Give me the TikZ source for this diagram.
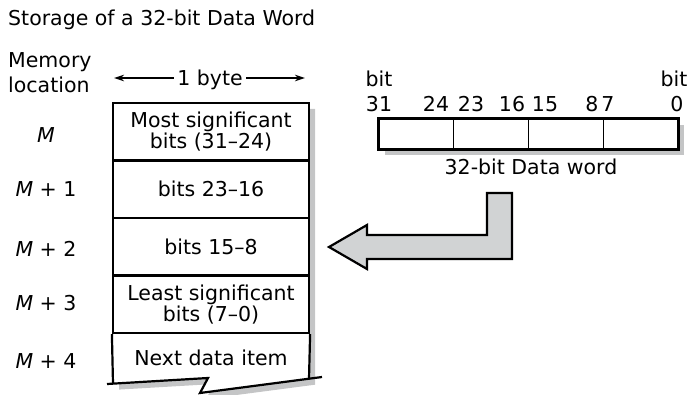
\documentclass[tikz,border=0pt]{standalone}
\usepackage{fontspec}
\setmainfont{DejaVu Sans}
\usetikzlibrary{arrows.meta}
\definecolor{shadowgray}{HTML}{C4C5C6}
\definecolor{arrowgray}{HTML}{D1D3D4}
\begin{document}
\begin{tikzpicture}[x=1pt,y=-1pt,
        every node/.style={font=\fontsize{20.5}{21}\selectfont,text=black},
        lbl/.style={anchor=base,inner sep=0pt},
        row/.style={draw,line width=2.2pt,minimum width=196pt,minimum height=57.5pt,
                    align=center,inner sep=0pt},
        cell/.style={draw,line width=1pt,minimum width=74.75pt,minimum height=30pt,inner sep=0pt},
        dim/.style={line width=1.5pt,-{Stealth[length=10pt,width=6.5pt]}}]
      \useasboundingbox (0,0) rectangle (690,395);
      \node[lbl,anchor=base west](title) at(8,26){Storage of a 32-bit Data Word};
      \node[lbl,anchor=base west](mem) at(8,68){Memory};
      \node[lbl,anchor=base west](loc) at(8,93){location};
      \node[lbl](byte) at(210,86){\,1 byte\,};
      \coordinate(bl) at(114,78);
      \coordinate(br) at(305,78);
      \draw[dim](byte.west |- bl)--(bl);
      \draw[dim](byte.east |- br)--(br);
      % memory column
      \fill[shadowgray,shift={(6,6)}](113,103)--(309,103)--(309,378.7)--(200,393)--(208,378)--(113,383.6)--cycle;
      \fill[white](113,103)--(309,103)--(309,378.7)--(200,393)--(208,378)--(113,383.6)--cycle;
      \node[row](r1) at(211,131.75){Most significant\\bits (31--24)};
      \node[row](r2) at(211,189.25){bits 23--16};
      \node[row](r3) at(211,246.75){bits 15--8};
      \node[row](r4) at(211,304.25){Least significant\\bits (7--0)};
      \node[lbl](r5) at(211,365){Next data item};
      \draw[line width=2.2pt](r4.south west)--(113,383.6);
      \draw[line width=2.2pt](r4.south east)--(309,378.7);
      \draw[line width=2.2pt,line join=miter](107,384)--(208,378)--(200,393)--(322,377);
      \node[lbl](m0) at(46,143){\textit{M}};
      \node[lbl](m1) at(46,197){\textit{M} + 1};
      \node[lbl](m2) at(46,257){\textit{M} + 2};
      \node[lbl](m3) at(46,310){\textit{M} + 3};
      \node[lbl](m4) at(46,368){\textit{M} + 4};
      % data word
      \fill[shadowgray](385,125) rectangle (684,155);
      \node[cell,fill=white](c1) at(416.4,134){};
      \node[cell,fill=white](c2) at(491.1,134){};
      \node[cell,fill=white](c3) at(565.9,134){};
      \node[cell,fill=white](c4) at(640.6,134){};
      \draw[line width=2.2pt](c1.north west) rectangle (c4.south east);
      \node[lbl](bt) at(379,87){bit};
      \node[lbl](b31) at(379,112){31};
      \node[lbl](b24) at(436,112){24};
      \node[lbl](b23) at(471,112){23};
      \node[lbl](b16) at(512,112){16};
      \node[lbl](b15) at(545,112){15};
      \node[lbl](b8) at(592,112){8};
      \node[lbl](b7) at(608,112){7};
      \node[lbl](bt0) at(674,87){bit};
      \node[lbl](b0) at(677,112){0};
      \node[lbl](word) at(531,175){32-bit Data word};
      % big arrow
      \draw[line width=2.2pt,line join=miter,fill=arrowgray](329,247)--(367,225)--(367,235)--(487,235)
            --(487,193)--(512,193)--(512,259)--(367,259)--(367,269)--cycle;
    \end{tikzpicture}
\end{document}
